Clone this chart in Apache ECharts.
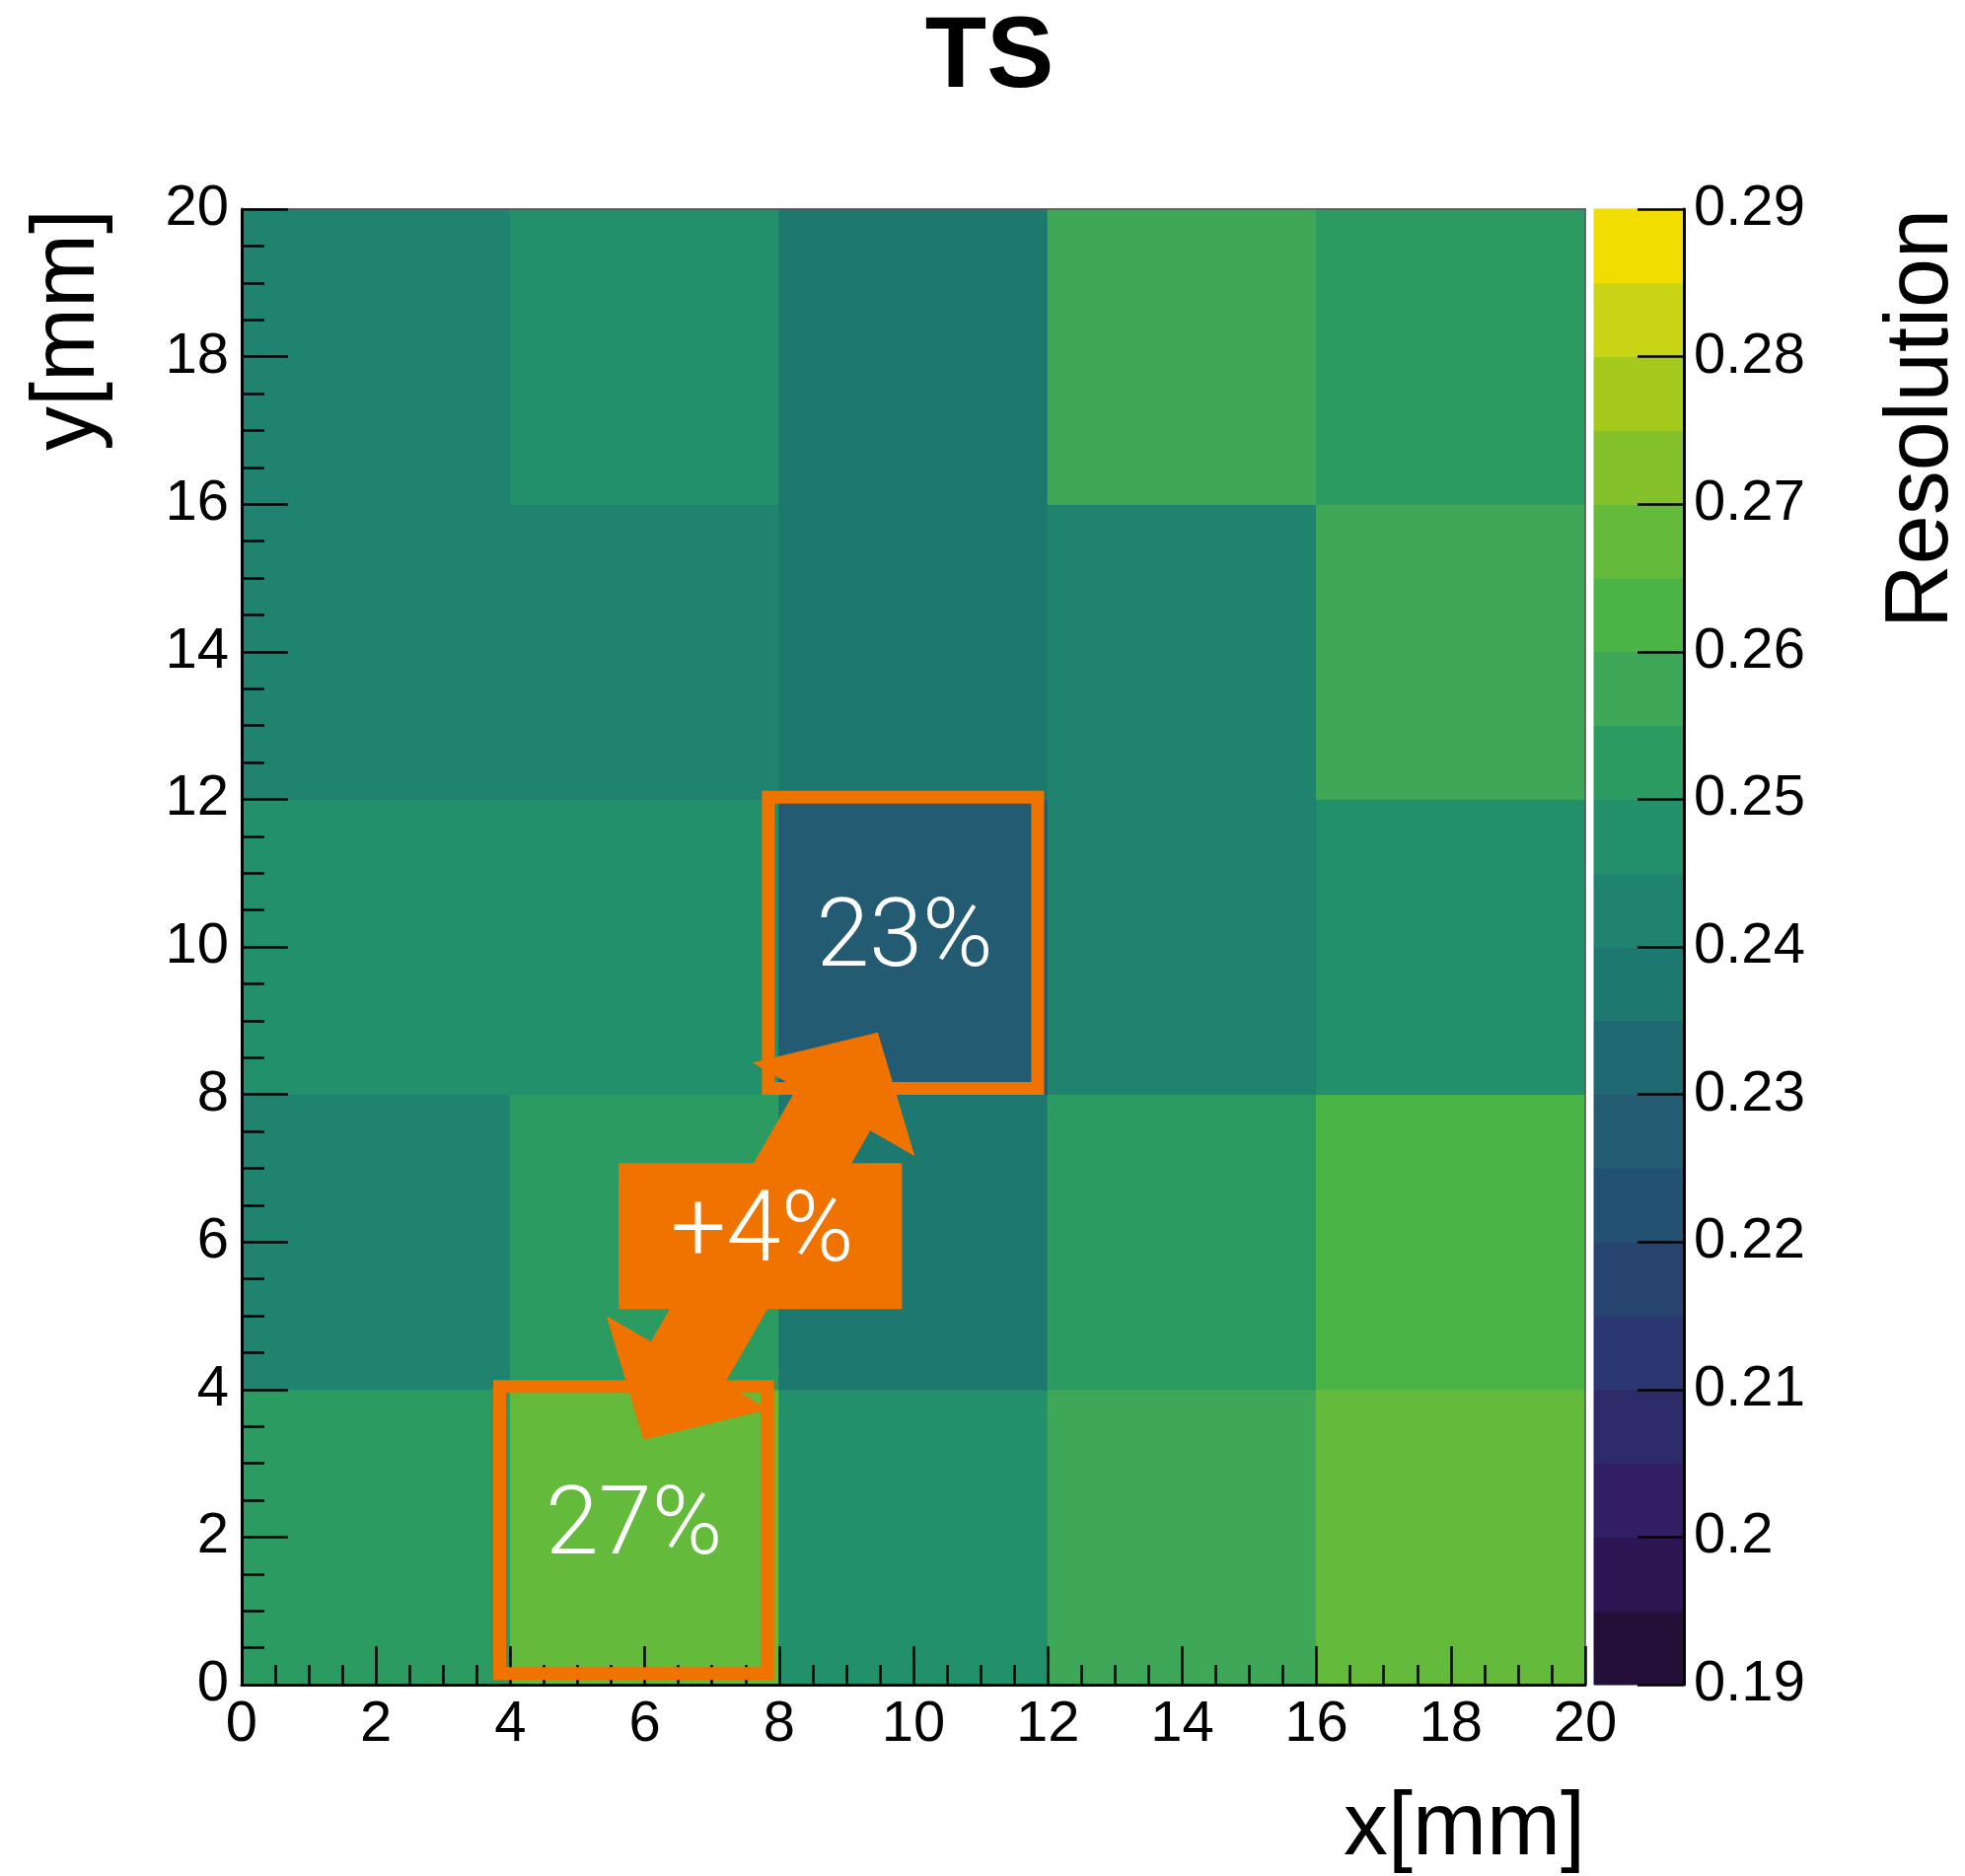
<!DOCTYPE html>
<html><head><meta charset="utf-8">
<script src="https://cdn.jsdelivr.net/npm/echarts@6/dist/echarts.min.js"></script>
<style>html,body{margin:0;padding:0;background:#fff;}#c{width:1992px;height:1902px;}</style>
</head><body><div id="c"></div>
<script>
// ---- data ----
const xBins = [0, 4, 8, 12, 16, 20];
const yBins = [0, 4, 8, 12, 16, 20];
// resolution per row of y bins (x bins left to right)
const resY0to4   = [0.252, 0.269, 0.247, 0.257, 0.268];
const resY4to8   = [0.243, 0.253, 0.238, 0.252, 0.262];
const resY8to12  = [0.247, 0.248, 0.229, 0.242, 0.247];
const resY12to16 = [0.242, 0.243, 0.237, 0.242, 0.257];
const resY16to20 = [0.243, 0.247, 0.238, 0.258, 0.253];
// colour contour levels and their colours (bottom to top)
const levels = [0.19, 0.195, 0.2, 0.205, 0.21, 0.215, 0.22, 0.225, 0.23, 0.235, 0.24,
                0.245, 0.25, 0.255, 0.26, 0.265, 0.27, 0.275, 0.28, 0.285, 0.29];
const palette = ['#240f38', '#2e1553', '#311e63', '#2e2b6a', '#2b3770', '#274471', '#235172',
                 '#225b72', '#1f6a72', '#1d7870', '#20836f', '#22906a', '#2b9b62', '#3ea858',
                 '#4ab447', '#64bb3b', '#84c12a', '#a4ca1d', '#c9d417', '#f2dd00'];
// annotations (data units)
const boxHigh = [7.84, 8.08, 11.85, 12.03];
const boxLow = [3.84, 0.15, 7.83, 4.04];
const arrowFrom = [5.98, 3.32];
const arrowTo = [9.47, 8.84];
const labelBox = [5.61, 5.09, 9.83, 7.07];
const textHigh = {text: '23%', at: [9.87, 10.07]};
const textLow = {text: '27%', at: [5.84, 2.10]};
const textDiff = {text: '+4%', at: [7.75, 6.08]};

// ---- build ----
const resRows = [resY0to4, resY4to8, resY8to12, resY12to16, resY16to20];
const cellData = [];
resRows.forEach((row, j) => row.forEach((v, i) => {
  cellData.push([xBins[i], xBins[i + 1], yBins[j], yBins[j + 1], v]);
}));
const barData = palette.map((c, i) => [0, 1, levels[i], levels[i + 1], (levels[i] + levels[i + 1]) / 2]);
const pieces = palette.map((c, i) => ({gte: levels[i], lt: levels[i + 1], color: c}));

const FONT = 'Liberation Sans, Arial, Helvetica, sans-serif';
const ORANGE = '#f07300';

function rectItem(params, api) {
  const p0 = api.coord([api.value(0), api.value(3)]);
  const p1 = api.coord([api.value(1), api.value(2)]);
  const c = api.visual('color');
  return {type: 'rect', shape: {x: p0[0], y: p0[1], width: p1[0] - p0[0], height: p1[1] - p0[1]},
          style: {fill: c, stroke: c, lineWidth: 1}};
}

const chart = echarts.init(document.getElementById('c'), null, {renderer: 'canvas'});
const axisLabel = {fontFamily: FONT, fontSize: 58, color: '#000'};
const option = {
  animation: false,
  backgroundColor: '#fff',
  grid: [
    {left: 245, top: 212, width: 1362, height: 1496},
    {left: 1616, top: 212, width: 91, height: 1496}
  ],
  visualMap: {type: 'piecewise', show: false, dimension: 4, seriesIndex: [0, 1], pieces: pieces},
  xAxis: [
    {type: 'value', gridIndex: 0, min: 0, max: 20, interval: 2, z: 10,
     axisLine: {show: true, onZero: false, lineStyle: {color: '#000', width: 3}},
     axisTick: {show: true, inside: true, length: 39, lineStyle: {color: '#000', width: 2.5}},
     minorTick: {show: true, splitNumber: 4, length: 20, lineStyle: {color: '#000', width: 2.5}},
     axisLabel: Object.assign({margin: 12, showMinLabel: true, showMaxLabel: true}, axisLabel),
     splitLine: {show: false}},
    {type: 'value', gridIndex: 1, min: 0, max: 1, show: false},
    {type: 'value', gridIndex: 0, min: 0, max: 20, position: 'top', z: 10,
     axisLine: {show: true, onZero: false, lineStyle: {color: '#555', width: 1.5}},
     axisTick: {show: false}, minorTick: {show: false}, axisLabel: {show: false}, splitLine: {show: false}}
  ],
  yAxis: [
    {type: 'value', gridIndex: 0, min: 0, max: 20, interval: 2, z: 10,
     axisLine: {show: true, onZero: false, lineStyle: {color: '#000', width: 3}},
     axisTick: {show: true, inside: true, length: 47, lineStyle: {color: '#000', width: 2.5}},
     minorTick: {show: true, splitNumber: 4, length: 23, lineStyle: {color: '#000', width: 2.5}},
     axisLabel: Object.assign({margin: 13, showMinLabel: true, showMaxLabel: true}, axisLabel),
     splitLine: {show: false}},
    {type: 'value', gridIndex: 1, min: 0.19, max: 0.29, interval: 0.01, position: 'right', z: 10,
     axisLine: {show: true, onZero: false, lineStyle: {color: '#000', width: 3}},
     axisTick: {show: true, inside: true, length: 47, lineStyle: {color: '#000', width: 2.5}},
     axisLabel: Object.assign({margin: 10, showMinLabel: true, showMaxLabel: true}, axisLabel),
     splitLine: {show: false}},
    {type: 'value', gridIndex: 0, min: 0, max: 20, position: 'right', z: 10,
     axisLine: {show: true, onZero: false, lineStyle: {color: '#555', width: 1.5}},
     axisTick: {show: false}, minorTick: {show: false}, axisLabel: {show: false}, splitLine: {show: false}}
  ],
  series: [
    {type: 'custom', xAxisIndex: 0, yAxisIndex: 0, data: cellData, renderItem: rectItem,
     encode: {x: [0, 1], y: [2, 3]}, silent: true},
    {type: 'custom', xAxisIndex: 1, yAxisIndex: 1, data: barData, renderItem: rectItem,
     encode: {x: [0, 1], y: [2, 3]}, silent: true}
  ]
};
chart.setOption(option);

// ---- annotations ----
const px = (p) => chart.convertToPixel({gridIndex: 0}, p);
function boxGraphic(b, stroke) {
  const a = px([b[0], b[3]]), c = px([b[2], b[1]]);
  return stroke
    ? {type: 'rect', z: 100, shape: {x: a[0], y: a[1], width: c[0] - a[0], height: c[1] - a[1]},
       style: {fill: 'none', stroke: ORANGE, lineWidth: 13}}
    : {type: 'rect', z: 102, shape: {x: a[0], y: a[1], width: c[0] - a[0], height: c[1] - a[1]},
       style: {fill: ORANGE}};
}
function arrowGraphic(from, to) {
  const P1 = px(from), P2 = px(to);
  const dx = P2[0] - P1[0], dy = P2[1] - P1[1];
  const L = Math.hypot(dx, dy);
  const d = [dx / L, dy / L], n = [-d[1], d[0]];
  const headLen = 90, headHalf = 95, shaftHalf = 43;
  const B1 = [P1[0] + d[0] * headLen, P1[1] + d[1] * headLen];
  const B2 = [P2[0] - d[0] * headLen, P2[1] - d[1] * headLen];
  const off = (B, s) => [B[0] + n[0] * s, B[1] + n[1] * s];
  const pts = [P1, off(B1, headHalf), off(B1, shaftHalf), off(B2, shaftHalf), off(B2, headHalf), P2,
               off(B2, -headHalf), off(B2, -shaftHalf), off(B1, -shaftHalf), off(B1, -headHalf)];
  return {type: 'polygon', z: 101, shape: {points: pts}, style: {fill: ORANGE}};
}
function textGraphic(t, size) {
  const p = px(t.at);
  return {type: 'text', z: 103, x: p[0], y: p[1],
          style: {text: t.text, fill: '#fff', fontFamily: 'Roboto, ' + FONT, fontWeight: 300,
                  fontSize: size, align: 'center', verticalAlign: 'middle'}};
}
const graphics = [
  boxGraphic(boxHigh, true),
  boxGraphic(boxLow, true),
  arrowGraphic(arrowFrom, arrowTo),
  boxGraphic(labelBox, false),
  textGraphic(textHigh, 97), textGraphic(textLow, 97), textGraphic(textDiff, 100),
  {type: 'text', x: 1003, y: 60, style: {text: 'TS', fill: '#000', fontFamily: FONT, fontWeight: 'bold',
    fontSize: 102, align: 'center', verticalAlign: 'middle'}},
  {type: 'text', x: 1607, y: 1855, style: {text: 'x[mm]', fill: '#000', fontFamily: FONT,
    fontSize: 90, align: 'right', verticalAlign: 'middle'}},
  {type: 'text', x: 70, y: 212, rotation: Math.PI / 2, style: {text: 'y[mm]', fill: '#000', fontFamily: FONT,
    fontSize: 90, align: 'right', verticalAlign: 'middle'}},
  {type: 'text', x: 1949, y: 212, rotation: Math.PI / 2, style: {text: 'Resolution', fill: '#000', fontFamily: FONT,
    fontSize: 90, align: 'right', verticalAlign: 'middle'}}
];
chart.setOption({graphic: graphics});
</script>
</body></html>
